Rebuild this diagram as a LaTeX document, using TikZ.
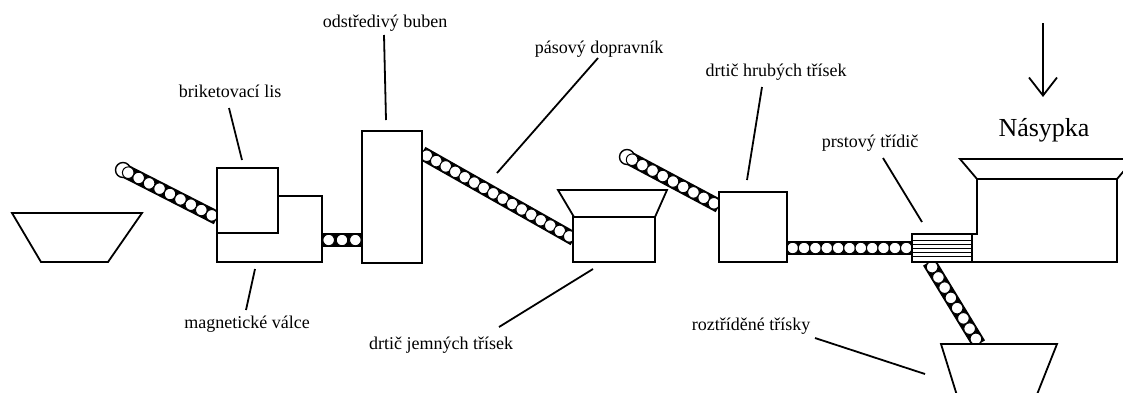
\documentclass[tikz,border=0pt]{standalone}
\usepackage{fontspec}
\setmainfont{Liberation Serif}
\usetikzlibrary{calc,arrows.meta}

\tikzset{
  stroj/.style={draw, line width=1.8pt, fill=white, inner sep=0pt},
  obrys/.style={draw, line width=1.8pt, fill=white, line join=miter},
  odkaz/.style={line width=1.8pt},
  popis/.style={font=\rmfamily\fontsize{18}{20}\selectfont, inner sep=2pt},
  valec/.style={draw, fill=white, line width=1pt},
}

% dopravnik: od, do, pocet valcu, polomer kladky (0 = bez kladky)
\newcommand\dopravnik[4]{%
  \draw[line width=14pt] (#1) -- (#2);
  \ifdim #4pt>0pt \draw[valec, line width=1.4pt] (#1) circle [radius=#4pt]; \fi
  \foreach \i in {1,...,#3}
    \draw[valec] ($(#1)!{(\i-0.5)/#3}!(#2)$) circle [radius=5.8pt];
}

\begin{document}
\begin{tikzpicture}[x=1pt, y=-1pt]
  \useasboundingbox (0,0) rectangle (1123,392);
  \clip (0,0) rectangle (1123,392);

  % konce dopravniku
  \coordinate (d1a) at (123,170);
  \coordinate (d1b) at (217,218);
  \coordinate (d2a) at (322,240);
  \coordinate (d2b) at (362,240);
  \coordinate (d3a) at (422,153);
  \coordinate (d3b) at (574,239);
  \coordinate (d4a) at (627,157);
  \coordinate (d4b) at (719,206);
  \coordinate (d5a) at (787,248);
  \coordinate (d5b) at (912,248);
  \coordinate (d6a) at (929,262);
  \coordinate (d6b) at (979,344);

  \dopravnik{d1a}{d1b}{9}{7.5}
  \dopravnik{d2a}{d2b}{3}{0}
  \dopravnik{d3a}{d3b}{16}{0}
  \dopravnik{d4a}{d4b}{9}{7.5}
  \dopravnik{d5a}{d5b}{11}{0}
  \dopravnik{d6a}{d6b}{8}{0}

  % zasobniky
  \draw[obrys] (12,213) -- (142,213) -- (108,262) -- (41,262) -- cycle;
  \draw[obrys] (558,190) -- (667,190) -- (655,217) -- (574,217) -- cycle;
  \draw[obrys] (941,344) -- (1057,344) -- (1034,402) -- (959,402) -- cycle;

  % stroje
  \node[stroj, minimum width=105pt, minimum height=66pt] (lisdol) at (269.5,229) {};
  \node[stroj, minimum width=61pt, minimum height=65pt] (lis) at (247.5,200.5) {};
  \node[stroj, minimum width=60pt, minimum height=132pt] (buben) at (392,197) {};
  \node[stroj, minimum width=82pt, minimum height=45pt] (jemny) at (614,239.5) {};
  \node[stroj, minimum width=68pt, minimum height=70pt] (hruby) at (753,227) {};

  % nasypka
  \draw[obrys] (972,234) -- (977,234) -- (977,179) -- (1117,179) -- (1117,262) -- (972,262);
  \draw[obrys] (960,159) -- (1134,159) -- (1117,179) -- (977,179) -- cycle;
  \node[stroj, minimum width=60pt, minimum height=28pt] (tridic) at (942,248) {};
  \foreach \y in {240,244,248,252,256}
    \draw[line width=0.6pt] (tridic.west |- 0,\y) -- (tridic.east |- 0,\y);

  % popisky
  \node[popis] (lbuben) at (385,23) {odstředivý buben};
  \node[popis] (llis) at (230,91) {briketovací lis};
  \node[popis] (lpas) at (599,49) {pásový dopravník};
  \node[popis] (lhrub) at (776,72) {drtič hrubých třísek};
  \node[popis] (ltridic) at (870,143) {prstový třídič};
  \node[popis] (lmag) at (247,324) {magnetické válce};
  \node[popis] (ljemny) at (441,345) {drtič jemných třísek};
  \node[popis] (lrozt) at (751,326) {roztříděné třísky};
  \node[popis, font=\rmfamily\fontsize{26}{30}\selectfont] (lnasypka) at (1044,130) {Násypka};

  % odkazy
  \coordinate (buben-p) at (384,35);   \coordinate (buben-s) at (386,120);
  \coordinate (lis-p) at (229,108);    \coordinate (lis-s) at (242,160);
  \coordinate (pas-p) at (598,58);     \coordinate (pas-s) at (497,173);
  \coordinate (hrub-p) at (762,87);    \coordinate (hrub-s) at (747,180);
  \coordinate (tridic-p) at (883,158); \coordinate (tridic-s) at (922,222);
  \coordinate (mag-p) at (246,310);    \coordinate (mag-s) at (255,269);
  \coordinate (jemny-p) at (499,327);  \coordinate (jemny-s) at (593,269);
  \coordinate (rozt-p) at (815,338);   \coordinate (rozt-s) at (925,374);
  \foreach \k in {buben,lis,pas,hrub,tridic,mag,jemny,rozt}
    \draw[odkaz] (\k-p) -- (\k-s);

  \coordinate (sipka-a) at (1043,23);
  \coordinate (sipka-b) at (1043,97);
  \draw[odkaz, -{Straight Barb[length=18pt, width=28pt]}] (sipka-a) -- (sipka-b);
\end{tikzpicture}
\end{document}
